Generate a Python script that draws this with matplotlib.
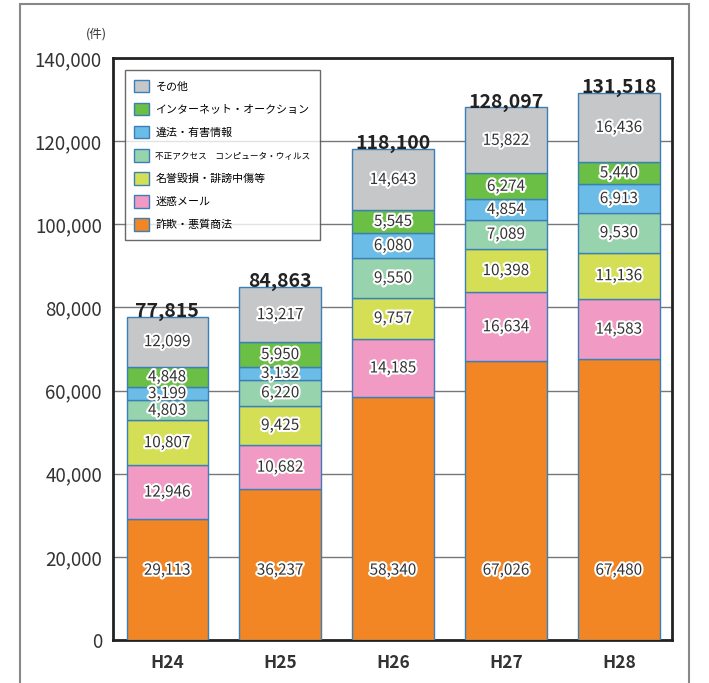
import matplotlib
matplotlib.use("Agg")
import matplotlib.pyplot as plt
import matplotlib.patheffects as pe
from matplotlib.patches import Rectangle, Patch
import numpy as np

plt.rcParams['font.family'] = ['Noto Sans CJK JP', 'DejaVu Sans']

years = ['H24', 'H25', 'H26', 'H27', 'H28']
categories = ['詐欺・悪質商法', '迷惑メール', '名誉毀損・誹謗中傷等',
              '不正アクセス　コンピュータ・ウィルス', '違法・有害情報',
              'インターネット・オークション', 'その他']
fraud = [29113, 36237, 58340, 67026, 67480]
spam = [12946, 10682, 14185, 16634, 14583]
defame = [10807, 9425, 9757, 10398, 11136]
access = [4803, 6220, 9550, 7089, 9530]
illegal = [3199, 3132, 6080, 4854, 6913]
auction = [4848, 5950, 5545, 6274, 5440]
other = [12099, 13217, 14643, 15822, 16436]
colors = ['#f28524', '#f19ac4', '#d5df55', '#97d3ad', '#6bbde8', '#6abf44', '#c6c7c9']

series = [fraud, spam, defame, access, illegal, auction, other]

fig = plt.figure(figsize=(7.09, 6.83), dpi=100)
ax = fig.add_axes([113/709, 1-640/683, 559/709, 582/683])

# outer frame
fig.patches.append(Rectangle((20/709, -0.05), 669/709, 1.05 - 4/683, transform=fig.transFigure,
                             fill=False, edgecolor='#888888', lw=1.5, clip_on=False))

x = np.arange(len(years))
bottom = np.zeros(len(years))
stroke = [pe.withStroke(linewidth=3, foreground='white')]
for i, (vals, c) in enumerate(zip(series, colors)):
    vals = np.array(vals)
    ax.bar(x, vals, 0.72, bottom=bottom, color=c, edgecolor='#3a7fb5', linewidth=1, zorder=3)
    for xi, b, v in zip(x, bottom, vals):
        # the fraud labels sit at one common height near the top of the lowest segment
        y = 16800 if i == 0 else b + v / 2
        ax.text(xi, y, f'{v:,}', ha='center', va='center', fontsize=11,
                color='#333333', path_effects=stroke, zorder=4)
    bottom += vals

for xi, t in zip(x, bottom):
    ax.annotate(f'{int(t):,}', (xi, t), xytext=(0, -3), textcoords='offset points',
                ha='center', va='bottom', fontsize=14, fontweight='bold', color='#222222', zorder=5)

ax.set_xlim(-0.48, 4.47)
ax.set_ylim(0, 140000)
ax.set_yticks(range(0, 140001, 20000))
ax.set_yticklabels([f'{v:,}' for v in range(0, 140001, 20000)], fontsize=13.5, color='#333333')
ax.set_xticks(x)
ax.set_xticklabels(years, fontsize=12.5, fontweight='bold', color='#333333')
ax.tick_params(axis='both', length=0, pad=8)
ax.tick_params(axis='x', pad=10)
ax.yaxis.grid(True, color='#777777', lw=1, zorder=0)
ax.set_axisbelow(True)
for s in ax.spines.values():
    s.set_linewidth(2)
    s.set_color('#222222')

ax.text(-0.03, 1.035, '(件)', transform=ax.transAxes, fontsize=9, color='#333333', ha='center')

handles = [Patch(facecolor=c, edgecolor='#3a7fb5', label=l) for c, l in zip(colors, categories)][::-1]
leg = ax.legend(handles=handles, loc='upper left', bbox_to_anchor=(0.021, 0.979), borderaxespad=0,
                fontsize=7.9, frameon=True, fancybox=False, edgecolor='#444444',
                handlelength=1.4, handleheight=1.4, handletextpad=0.55,
                labelspacing=0.95, borderpad=0.85)
leg.get_texts()[3].set_fontsize(6.2)
leg.get_frame().set_linewidth(1)
leg.set_zorder(6)

plt.savefig('out.png', dpi=100)
